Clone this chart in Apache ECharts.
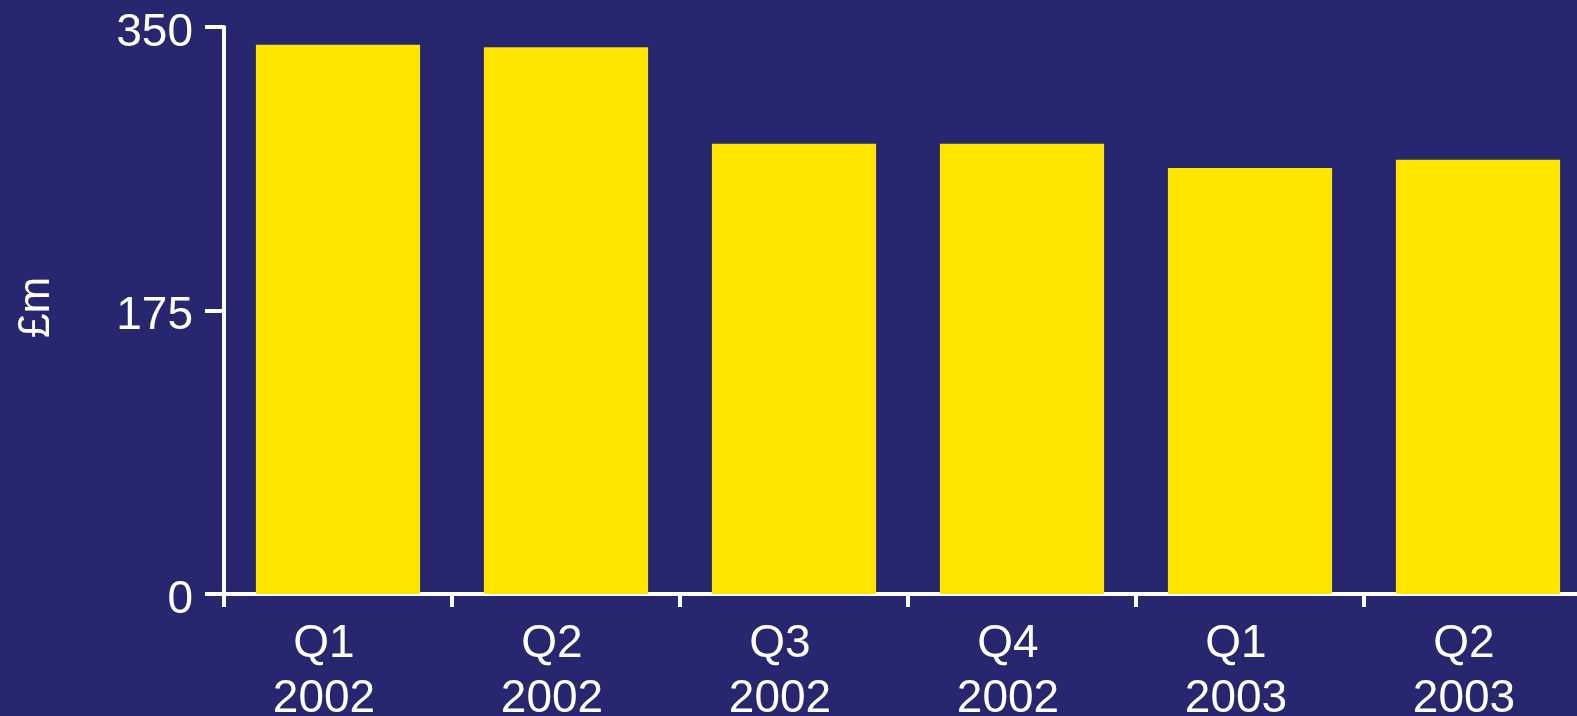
<!DOCTYPE html>
<html><head><meta charset="utf-8">
<script src="https://cdn.jsdelivr.net/npm/echarts@6/dist/echarts.min.js"></script>
<style>html,body{margin:0;padding:0;background:#26276F;}#c{width:1577px;height:716px;}</style>
</head><body><div id="c"></div>
<script>
const categories = ['Q1\n2002','Q2\n2002','Q3\n2002','Q4\n2002','Q1\n2003','Q2\n2003'];
const values = [339, 337.5, 278, 278, 263, 268];
const yTicks = [0, 175, 350];
const yName = '£m';

const chart = echarts.init(document.getElementById('c'));
const white = '#FFFFFF';
chart.setOption({
  backgroundColor: '#26276F',
  animation: false,
  grid: {left: 224, right: -15, top: 27, bottom: 122, containLabel: false, outerBoundsMode: 'none'},
  xAxis: {
    type: 'category', data: categories,
    axisLine: {lineStyle: {color: white, width: 4}},
    axisTick: {show: true, length: 13, lineStyle: {color: white, width: 4}},
    axisLabel: {color: white, fontFamily: 'Liberation Sans, Arial', fontSize: 46, lineHeight: 55, margin: 23, padding: [0, 28, 0, 0]},
    splitLine: {show: false}
  },
  yAxis: {
    type: 'value', min: yTicks[0], max: yTicks[yTicks.length-1], interval: yTicks[1]-yTicks[0],
    name: yName, nameLocation: 'middle', nameGap: 165, nameRotate: 90,
    nameTextStyle: {color: white, fontFamily: 'Liberation Sans, Arial', fontSize: 44, padding: [0, 0, 0, 6]},
    axisLine: {show: true, lineStyle: {color: white, width: 4}},
    axisTick: {show: true, length: 19, lineStyle: {color: white, width: 4}},
    axisLabel: {color: white, fontFamily: 'Liberation Sans, Arial', fontSize: 46, margin: 31, verticalAlign: 'top', lineHeight: 12},
    splitLine: {show: false}
  },
  series: [{
    type: 'bar', data: values, barCategoryGap: '28%',
    itemStyle: {color: '#FFE500'}
  }]
});
</script></body></html>
